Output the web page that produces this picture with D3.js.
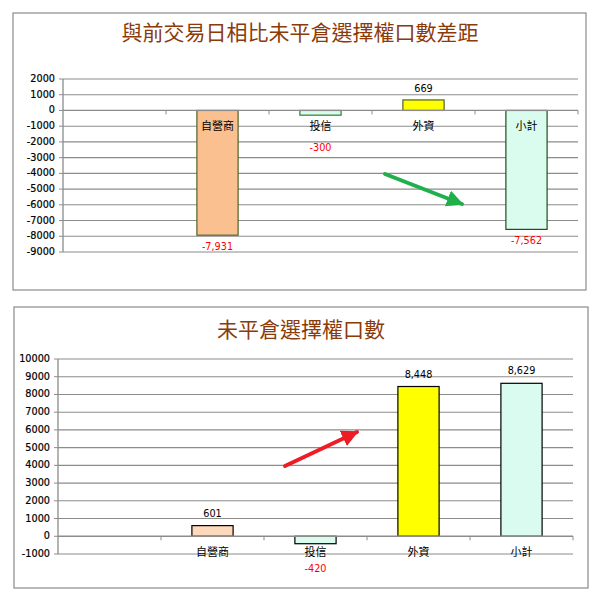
<!DOCTYPE html>
<html>
<head>
  <meta charset="utf-8">
  <title>未平倉選擇權口數</title>
  <style>
    body { margin: 0; background: #fff; }
    .tick-label { font-family: "DejaVu Sans", Verdana, sans-serif; font-size: 9.7px; }
    .cat-label { font-family: "Noto Sans CJK TC", sans-serif; font-size: 11px; fill: #000; }
    .title { font-family: "Noto Sans CJK TC", serif; font-size: 21px; fill: #8B3A0A; }
  </style>
</head>
<body>
  <svg width="599" height="600"></svg>
  <script src="https://d3js.org/d3.v7.min.js"></script>
  <script>
    // Data
    const categories = ["", "自營商", "投信", "外資", "小計"];
    const diffValues = [null, -7931, -300, 669, -7562];
    const oiValues = [null, 601, -420, 8448, 8629];
    const diffTitle = "與前交易日相比未平倉選擇權口數差距";
    const oiTitle = "未平倉選擇權口數";

    const svg = d3.select("svg");
    const fmt = v => d3.format(",")(v).replace("\u2212", "-");

    const defs = svg.append("defs");
    function arrowMarker(id, color) {
      defs.append("marker")
          .attr("id", id)
          .attr("viewBox", "0 0 10 10")
          .attr("refX", 9).attr("refY", 5)
          .attr("markerWidth", 4.2).attr("markerHeight", 4.2)
          .attr("orient", "auto")
        .append("path")
          .attr("d", "M0,0L10,5L0,10Z")
          .attr("fill", color);
    }
    arrowMarker("arrow-green", "#1FAF4B");
    arrowMarker("arrow-red", "#EE1C24");

    function drawPanel(cfg) {
      const g = svg.append("g");

      // panel frame
      g.append("rect")
          .attr("x", cfg.box[0]).attr("y", cfg.box[1])
          .attr("width", cfg.box[2]).attr("height", cfg.box[3])
          .attr("fill", "#fff")
          .attr("stroke", "#8a8a8a")
          .attr("stroke-width", 1.2);

      g.append("text")
          .attr("class", "title")
          .attr("x", cfg.titleX).attr("y", cfg.titleY)
          .attr("text-anchor", "middle")
          .attr("dominant-baseline", "middle")
          .text(cfg.title);

      const x = d3.scaleBand()
          .domain(d3.range(categories.length))
          .range([cfg.left, cfg.right])
          .paddingInner(0.6)
          .paddingOuter(0.3);

      const y = d3.scaleLinear()
          .domain(cfg.domain)
          .range([cfg.bottom, cfg.top]);

      const ticks = d3.range(cfg.domain[0], cfg.domain[1] + 1, 1000);

      // gridlines
      g.append("g").selectAll("line")
        .data(ticks.filter(t => t !== 0))
        .join("line")
          .attr("x1", cfg.left).attr("x2", cfg.right)
          .attr("y1", d => y(d)).attr("y2", d => y(d))
          .attr("stroke", "#8c8c8c")
          .attr("stroke-width", 1.1);

      // y axis
      g.append("line")
          .attr("x1", cfg.left).attr("x2", cfg.left)
          .attr("y1", y(cfg.domain[0])).attr("y2", y(cfg.domain[1]))
          .attr("stroke", "#8c8c8c")
          .attr("stroke-width", 1.3);
      g.append("g").selectAll("line")
        .data(ticks)
        .join("line")
          .attr("x1", cfg.left - 4).attr("x2", cfg.left)
          .attr("y1", d => y(d)).attr("y2", d => y(d))
          .attr("stroke", "#8c8c8c");
      g.append("g").selectAll("text")
        .data(ticks)
        .join("text")
          .attr("class", "tick-label")
          .attr("x", cfg.left - 8)
          .attr("y", d => y(d))
          .attr("text-anchor", "end")
          .attr("dominant-baseline", "middle")
          .style("fill", "#000")
          .style("stroke", "#000")
          .style("stroke-width", 0.2)
          .text(d => String(d));

      // bars
      g.append("g").selectAll("rect")
        .data(cfg.values.map((v, i) => ({ v, i })).filter(d => d.v !== null))
        .join("rect")
          .attr("x", d => x(d.i))
          .attr("width", x.bandwidth())
          .attr("y", d => y(Math.max(0, d.v)))
          .attr("height", d => Math.abs(y(d.v) - y(0)))
          .attr("fill", d => cfg.fills[d.i])
          .attr("stroke", d => cfg.strokes[d.i])
          .attr("stroke-width", 1.2);

      // category axis on zero line
      const zy = y(0);
      g.append("line")
          .attr("x1", cfg.left).attr("x2", cfg.right)
          .attr("y1", zy).attr("y2", zy)
          .attr("stroke", "#8c8c8c")
          .attr("stroke-width", 1.3);
      const step = x.step();
      g.append("g").selectAll("line")
        .data(d3.range(1, categories.length + 1))
        .join("line")
          .attr("x1", i => cfg.left + i * step).attr("x2", i => cfg.left + i * step)
          .attr("y1", zy).attr("y2", zy + 4)
          .attr("stroke", "#8c8c8c");

      g.append("g").selectAll("text")
        .data(categories.map((c, i) => ({ c, i })).filter(d => d.c))
        .join("text")
          .attr("class", "cat-label")
          .attr("x", d => x(d.i) + x.bandwidth() / 2)
          .attr("y", zy + 17)
          .attr("text-anchor", "middle")
          .attr("dominant-baseline", "middle")
          .text(d => d.c);

      // value labels
      g.append("g").selectAll("text")
        .data(cfg.values.map((v, i) => ({ v, i })).filter(d => d.v !== null))
        .join("text")
          .attr("class", "tick-label")
          .attr("x", d => x(d.i) + x.bandwidth() / 2)
          .attr("y", d => d.v >= 0
              ? y(d.v) - cfg.posGap
              : Math.max(y(d.v) + 12, zy + cfg.negMin))
          .attr("text-anchor", "middle")
          .attr("dominant-baseline", "middle")
          .style("fill", d => d.v < 0 ? "#FF0000" : "#000")
          .text(d => fmt(d.v));

      // annotation arrow
      g.append("line")
          .attr("x1", cfg.arrow[0]).attr("y1", cfg.arrow[1])
          .attr("x2", cfg.arrow[2]).attr("y2", cfg.arrow[3])
          .attr("stroke", cfg.arrowColor)
          .attr("stroke-width", 4)
          .attr("stroke-linecap", "round")
          .attr("marker-end", "url(#" + cfg.arrowId + ")");
    }

    drawPanel({
      box: [13, 13, 573, 277],
      title: diffTitle, titleX: 300, titleY: 34,
      left: 63, right: 578, top: 79, bottom: 252,
      domain: [-9000, 2000],
      values: diffValues,
      fills: [null, "#FAC090", "#DAFCEE", "#FFFF00", "#DAFCEE"],
      strokes: [null, "#4F6228", "#2E7D32", "#4F6228", "#1F4E1F"],
      posGap: 11, negMin: 38,
      arrow: [385, 174, 462, 204], arrowColor: "#1FAF4B", arrowId: "arrow-green"
    });

    drawPanel({
      box: [14, 307, 574, 281],
      title: oiTitle, titleX: 301, titleY: 331,
      left: 58, right: 573, top: 359, bottom: 554,
      domain: [-1000, 10000],
      values: oiValues,
      fills: [null, "#FDD9BC", "#DAFCEE", "#FFFF00", "#DAFCF0"],
      strokes: [null, "#000", "#000", "#000", "#000"],
      posGap: 12, negMin: 33,
      arrow: [285, 466, 357, 432], arrowColor: "#EE1C24", arrowId: "arrow-red"
    });
  </script>
</body>
</html>
